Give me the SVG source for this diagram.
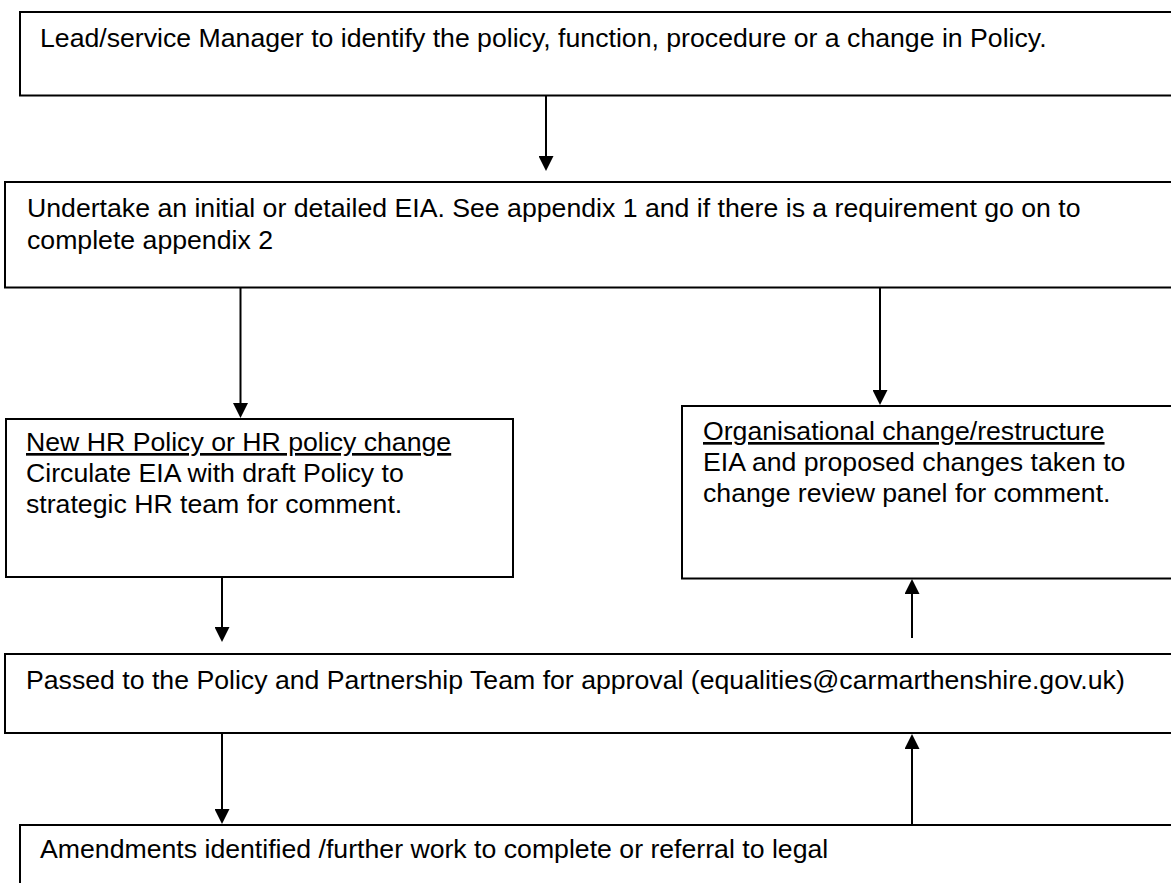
<svg xmlns="http://www.w3.org/2000/svg" width="1171" height="883" viewBox="0 0 1171 883">
<style>
.box{fill:#fff;stroke:#000;stroke-width:2}
.t{font-family:"Liberation Sans",Arial,sans-serif;font-size:26.67px;fill:#000}
.u{text-decoration:underline}
.c{stroke:#000;stroke-width:2;fill:none;marker-end:url(#ah)}
</style>
<defs>
<marker id="ah" viewBox="0 0 15 15" refX="5" refY="7.5" markerWidth="15" markerHeight="15" markerUnits="userSpaceOnUse" orient="auto">
<path d="M0,0 L15,7.5 L0,15 z" fill="#000"/>
</marker>
</defs>
<rect width="1171" height="883" fill="#fff"/>
<g id="n1">
<rect class="box" x="20" y="12" width="1170" height="83.5"/>
<text class="t" x="40" y="46.5">Lead/service Manager to identify the policy, function, procedure or a change in Policy.</text>
</g>
<g id="n2">
<rect class="box" x="5" y="182" width="1185" height="105.5"/>
<text class="t" x="27" y="217">Undertake an initial or detailed EIA. See appendix 1 and if there is a requirement go on to</text>
<text class="t" x="27" y="249">complete appendix 2</text>
</g>
<g id="n3">
<rect class="box" x="6" y="419" width="507" height="158"/>
<text class="t u" x="26" y="451">New HR Policy or HR policy change</text>
<text class="t" x="26" y="482">Circulate EIA with draft Policy to</text>
<text class="t" x="26" y="513">strategic HR team for comment.</text>
</g>
<g id="n4">
<rect class="box" x="682" y="406" width="510" height="172.5"/>
<text class="t u" x="703" y="440">Organisational change/restructure</text>
<text class="t" x="703" y="471">EIA and proposed changes taken to</text>
<text class="t" x="703" y="502">change review panel for comment.</text>
</g>
<g id="n5">
<rect class="box" x="5" y="654" width="1185" height="79"/>
<text class="t" x="26" y="689">Passed to the Policy and Partnership Team for approval (equalities@carmarthenshire.gov.uk)</text>
</g>
<g id="n6">
<rect class="box" x="20" y="825" width="1170" height="80"/>
<text class="t" x="40" y="858">Amendments identified /further work to complete or referral to legal</text>
</g>
<g id="connectors">
<path class="c" d="M546,96 V161"/>
<path class="c" d="M240.5,288 V408"/>
<path class="c" d="M880,288 V395"/>
<path class="c" d="M222,578 V632"/>
<path class="c" d="M912,638 V589"/>
<path class="c" d="M222,733 V814"/>
<path class="c" d="M912,825 V744"/>
</g>
</svg>
